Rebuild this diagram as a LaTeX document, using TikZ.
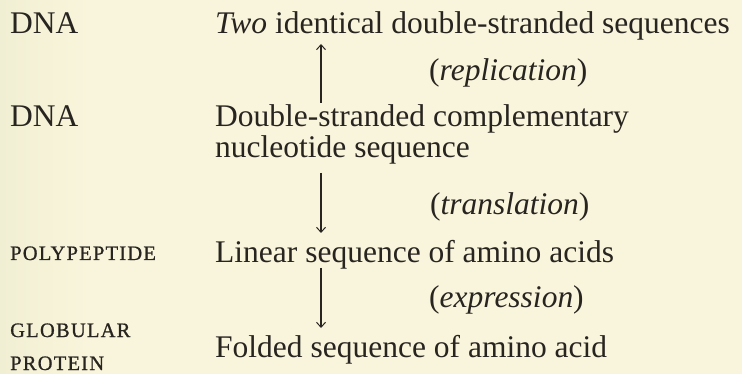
\documentclass[tikz,border=0pt]{standalone}
\usepackage{fontspec}
\setmainfont{Liberation Serif}
\newfontfamily\capsfont[LetterSpace=6,FakeBold=0.8]{Liberation Serif}
\usetikzlibrary{arrows.meta,calc}
\definecolor{paper}{RGB}{249,245,220}
\definecolor{paperedge}{RGB}{241,239,211}
\definecolor{ink}{RGB}{40,36,32}
\tikzset{
  main/.style={anchor=base west,inner sep=0pt,text=ink,font=\fontsize{31.5}{31.5}\selectfont},
  proc/.style={anchor=base west,inner sep=0pt,text=ink,font=\fontsize{31.5}{31.5}\selectfont},
  lab/.style={anchor=base west,inner sep=0pt,text=ink,font=\capsfont\fontsize{20.5}{20.5}\selectfont},
  arr/.style={draw=ink,line width=1.1pt,-{Straight Barb[length=5pt,width=9pt,line width=1pt]}}
}
\begin{document}
\begin{tikzpicture}[x=1pt,y=-1pt]
\useasboundingbox (0,0) rectangle (742,374);
\fill[paper] (0,0) rectangle (742,374);
\shade[left color=paperedge,right color=paper] (0,0) rectangle (90,374);
% left labels
\node[main] (dna1) at (10,34) {DNA};
\node[main] (dna2) at (10,127) {DNA};
\node[lab] (poly) at (10,260) {POLYPEPTIDE};
\node[lab] (glob) at (10,337) {GLOBULAR};
\node[lab] (prot) at (10,370) {PROTEIN};
% right column
\node[main] (two) at (215,34) {\textit{Two} identical double-stranded sequences};
\node[proc] (rep) at (429,81) {(\textit{replication})};
\node[main] (dbl) at (215,127) {Double-stranded complementary};
\node[main] (nuc) at (215,158) {nucleotide sequence};
\node[proc] (tra) at (430,215) {(\textit{translation})};
\node[main] (lin) at (215,263) {Linear sequence of amino acids};
\node[proc] (exp) at (429,308) {(\textit{expression})};
\node[main] (fold) at (215,357) {Folded sequence of amino acid};
% arrows
\coordinate (ax) at (321,0);
\draw[arr] ($(ax |- dbl.base)+(0,-24)$) -- ($(ax |- two.base)+(0,10)$);
\draw[arr] ($(ax |- nuc.base)+(0,15)$) -- ($(ax |- lin.base)+(0,-30)$);
\draw[arr] ($(ax |- lin.base)+(0,5)$) -- ($(ax |- fold.base)+(0,-29)$);
\end{tikzpicture}
\end{document}
